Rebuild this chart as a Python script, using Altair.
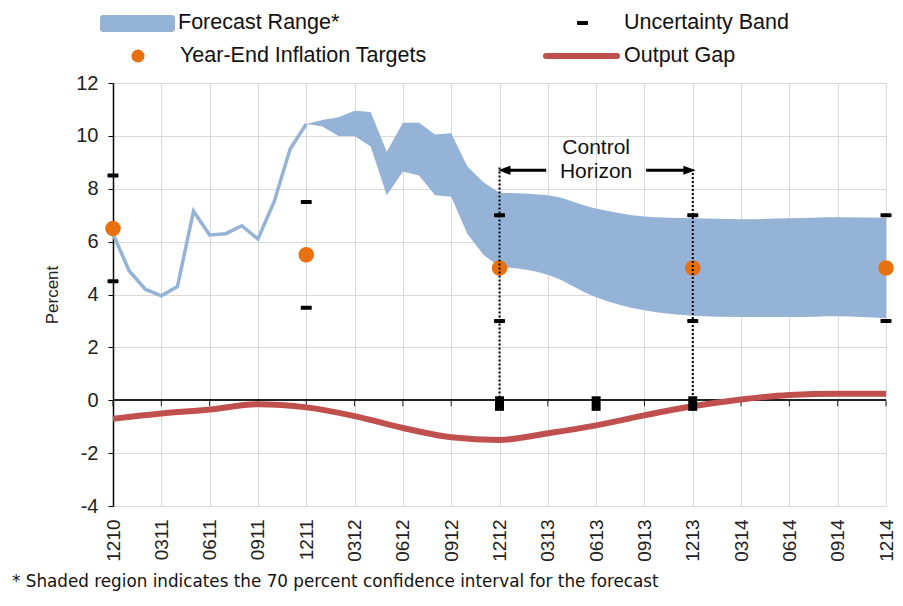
import altair as alt
import pandas as pd

# ---------------- data ----------------
quarter_labels = ["1210", "0311", "0611", "0911", "1211", "0312", "0612", "0912",
                  "1212", "0313", "0613", "0913", "1213", "0314", "0614", "0914", "1214"]
quarter_months = [0, 3, 6, 9, 12, 15, 18, 21, 24, 27, 30, 33, 36, 39, 42, 45, 48]

hist_months = [0, 1, 2, 3, 4, 5, 6, 7, 8, 9, 10, 11, 12]
hist_inflation = [6.3, 4.9, 4.2, 3.95, 4.3, 7.15, 6.25, 6.3, 6.6, 6.1, 7.5, 9.5, 10.45]

band1_months = [12, 13, 14, 15, 16, 17, 18, 19, 20, 21, 22, 23, 24]
band1_upper = [10.45, 10.6, 10.7, 10.95, 10.9, 9.4, 10.5, 10.5, 10.05, 10.1, 8.85, 8.25, 7.85]
band1_lower = [10.45, 10.35, 10.0, 10.0, 9.6, 7.75, 8.65, 8.5, 7.75, 7.7, 6.3, 5.5, 5.05]

band2_months = [24, 27, 30, 33, 36, 39, 42, 45, 48]
band2_upper = [7.85, 7.75, 7.25, 6.95, 6.88, 6.85, 6.88, 6.92, 6.9]
band2_lower = [5.05, 4.75, 3.9, 3.4, 3.2, 3.15, 3.15, 3.18, 3.1]

gap_months = [0, 3, 6, 9, 12, 15, 18, 21, 24, 27, 30, 33, 36, 39, 42, 45, 48]
output_gap = [-0.7, -0.5, -0.35, -0.15, -0.27, -0.6, -1.05, -1.4, -1.5, -1.25, -0.95,
              -0.57, -0.23, 0.03, 0.2, 0.25, 0.25]

target_months = [0, 12, 24, 36, 48]
targets = [6.5, 5.5, 5.0, 5.0, 5.0]

unc_months = [0, 0, 12, 12, 24, 24, 36, 36, 48, 48]
unc_values = [8.5, 4.5, 7.5, 3.5, 7.0, 3.0, 7.0, 3.0, 7.0, 3.0]

marker_months = [24, 30, 36]
marker_top = [0.15, 0.15, 0.15]
marker_bottom = [-0.4, -0.4, -0.4]

horizon_months = [24, 36]
horizon_top = [8.8, 8.75]
horizon_bottom = [-0.4, -0.4]

arrow_tail = [26.9, 33.1]
arrow_tip = [24.3, 35.8]
arrow_level = [8.7, 8.7]
arrow_shapes = ["M -1 0 L 1 -0.75 L 1 0.75 Z", "M 1 0 L -1 -0.75 L -1 0.75 Z"]

horizon_text = ["Control", "Horizon"]
horizon_text_m = [30, 30]
horizon_text_v = [9.55, 8.65]

# ---------------- styles ----------------
BAND = "#95b3d7"
ORANGE = "#e8700f"
RED = "#c0504d"
FONT = "Liberation Sans"

label_expr = "[" + ",".join("'%s'" % s for s in quarter_labels) + "][round(datum.value/3)]"

x_axis = alt.Axis(values=quarter_months, labelExpr=label_expr, labelAngle=-90,
                  labelFontSize=19, labelFont=FONT, labelColor="#222",
                  labelPadding=13, labelFlush=False, labelOverlap=False, labelBound=False,
                  ticks=False, domain=False, grid=True, gridColor="#d9d9d9", title=None)
y_axis = alt.Axis(values=[-4, -2, 0, 2, 4, 6, 8, 10, 12], labelFontSize=20, labelFont=FONT,
                  labelExpr="replace(datum.label, '\u2212', '-')",
                  labelColor="#222", labelPadding=10, tickSize=5, tickColor="black",
                  domainColor="black", domainWidth=1.5, grid=True, gridColor="#d9d9d9",
                  title="Percent", titleFont=FONT, titleFontSize=17, titleFontWeight="normal",
                  titleColor="#222", titlePadding=14)

xs = alt.Scale(domain=[0, 48], nice=False, zero=False, padding=0)
ys = alt.Scale(domain=[-4, 12], nice=False, zero=False, padding=0)


def X():
    return alt.X("m:Q", scale=xs, axis=x_axis)


def Y():
    return alt.Y("v:Q", scale=ys, axis=y_axis)


df_hist = pd.DataFrame({"m": hist_months, "v": hist_inflation})
df_b1 = pd.DataFrame({"m": band1_months, "v": band1_upper, "v2": band1_lower})
df_b2 = pd.DataFrame({"m": band2_months, "v": band2_upper, "v2": band2_lower})
df_gap = pd.DataFrame({"m": gap_months, "v": output_gap})
df_tgt = pd.DataFrame({"m": target_months, "v": targets})
df_unc = pd.DataFrame({"m": unc_months, "v": unc_values})
df_mark = pd.DataFrame({"m": marker_months, "v": marker_top, "v2": marker_bottom})
df_hor = pd.DataFrame({"m": horizon_months, "v": horizon_top, "v2": horizon_bottom})
df_arr = pd.DataFrame({"m": arrow_tail, "m2": arrow_tip, "v": arrow_level, "shape": arrow_shapes})
df_txt = pd.DataFrame({"m": horizon_text_m, "v": horizon_text_v, "t": horizon_text})
df_zero = pd.DataFrame({"m": quarter_months, "v": [0] * len(quarter_months)})
df0 = pd.DataFrame({"a": [0]})

area1 = alt.Chart(df_b1).mark_area(color=BAND, opacity=1).encode(x=X(), y=Y(), y2="v2:Q")
area2 = alt.Chart(df_b2).mark_area(color=BAND, opacity=1, interpolate="monotone").encode(
    x=X(), y=Y(), y2="v2:Q")
hist = alt.Chart(df_hist).mark_line(color=BAND, strokeWidth=3.5, opacity=1).encode(x=X(), y=Y())
zero = alt.Chart(df_zero).mark_rule(color="#222", strokeWidth=1.5, opacity=1).encode(y=Y())
zero_ticks = alt.Chart(df_zero).mark_tick(orient="vertical", size=6, thickness=1, opacity=1,
                                          yOffset=3, color="#222").encode(x=X(), y=Y())
gap = alt.Chart(df_gap).mark_line(color=RED, strokeWidth=6, interpolate="monotone",
                                  opacity=1).encode(x=X(), y=Y())
dots = alt.Chart(df_tgt).mark_circle(color=ORANGE, size=240, opacity=1).encode(x=X(), y=Y())
horizon = alt.Chart(df_hor).mark_rule(color="black", strokeWidth=2, strokeDash=[2, 2],
                                      opacity=1).encode(x=X(), y=Y(), y2="v2:Q")
markers = alt.Chart(df_mark).mark_bar(color="black", size=9, opacity=1).encode(
    x=X(), y=Y(), y2="v2:Q")
dashes = alt.Chart(df_unc).mark_tick(orient="horizontal", size=11, thickness=4, opacity=1,
                                     color="black", cornerRadius=1).encode(x=X(), y=Y())
arrows = alt.Chart(df_arr).mark_rule(color="black", strokeWidth=3, opacity=1).encode(
    x=X(), x2="m2:Q", y=Y())
heads = alt.Chart(df_arr).mark_point(filled=True, color="black", size=150, opacity=1).encode(
    x=alt.X("m2:Q", scale=xs, axis=x_axis), y=Y(), shape=alt.Shape("shape:N", scale=None))
htext = alt.Chart(df_txt).mark_text(font=FONT, fontSize=21, color="#111").encode(
    x=X(), y=Y(), text="t:N")

# legend (drawn above the plot)
leg_rect = alt.Chart(df0).mark_rect(color=BAND, cornerRadius=3).encode(
    x=alt.value(-13), x2=alt.value(62), y=alt.value(-68), y2=alt.value(-51))
leg_dot = alt.Chart(df0).mark_circle(color=ORANGE, size=170, opacity=1).encode(
    x=alt.value(25), y=alt.value(-27))
leg_dash = alt.Chart(df0).mark_rect(color="black", cornerRadius=1).encode(
    x=alt.value(464), x2=alt.value(475), y=alt.value(-62), y2=alt.value(-58))
leg_line = alt.Chart(df0).mark_rule(color=RED, strokeWidth=6, strokeCap="round").encode(
    x=alt.value(433), x2=alt.value(504), y=alt.value(-27))


def leg_text(x, y, s):
    return alt.Chart(df0).mark_text(font=FONT, fontSize=21.5, align="left", baseline="middle",
                                    color="#111").encode(
        x=alt.value(x), y=alt.value(y), text=alt.value(s))


footnote = alt.Chart(df0).mark_text(font="DejaVu Sans", fontSize=16.8, align="left",
                                    baseline="middle", color="#111").encode(
    x=alt.value(-101), y=alt.value(499),
    text=alt.value("* Shaded region indicates the 70 percent confidence interval for the forecast"))

chart = alt.layer(
    area1, area2, hist, zero, zero_ticks, gap, dots, horizon, markers, dashes, arrows, heads,
    htext, leg_rect, leg_dot, leg_dash, leg_line,
    leg_text(65, -60, "Forecast Range*"),
    leg_text(67, -27, "Year-End Inflation Targets"),
    leg_text(511, -60, "Uncertainty Band"),
    leg_text(511, -27, "Output Gap"),
    footnote,
).properties(
    width=773, height=423,
    autosize=alt.AutoSizeParams(type="none"),
    padding={"left": 105, "top": 75, "right": 9, "bottom": 86},
).configure_view(stroke=None)

chart.save("out.html", embed_options={"renderer": "svg", "actions": False})
